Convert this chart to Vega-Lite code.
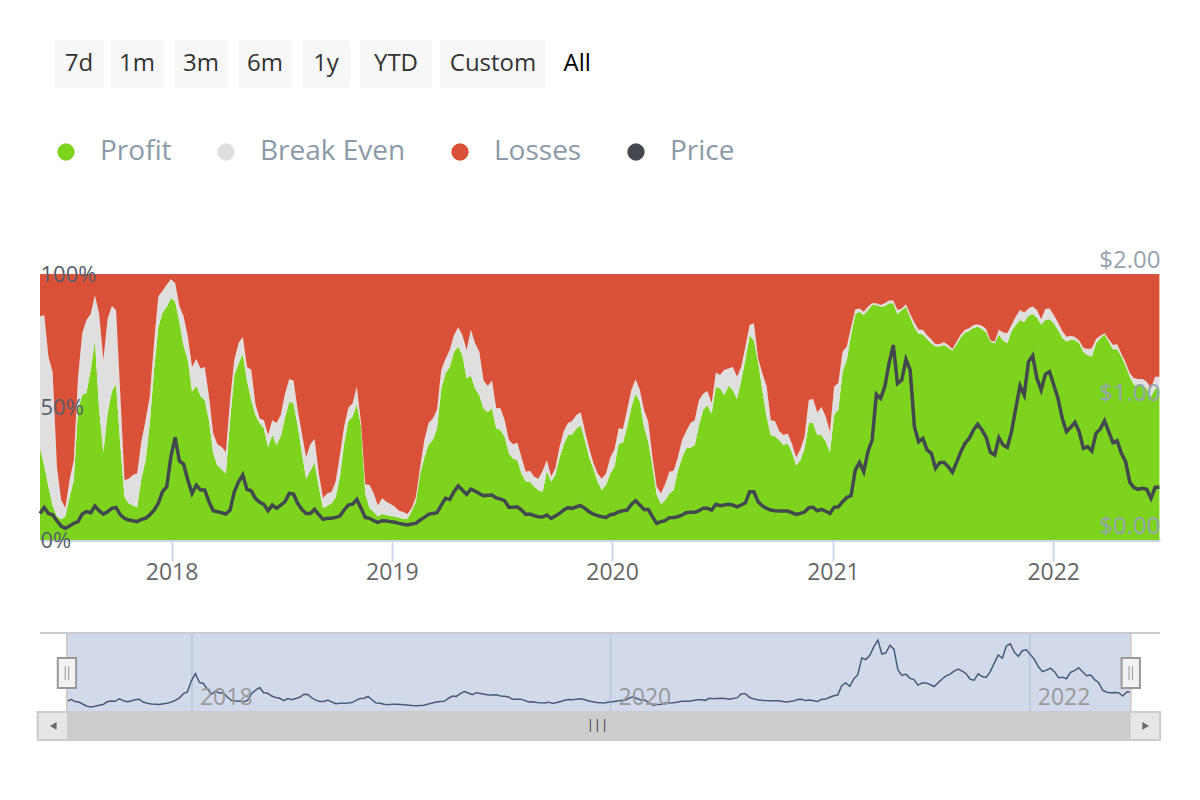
{"$schema":"https://vega.github.io/schema/vega-lite/v6.json","background":"white","padding":{"left":33,"top":40,"right":40,"bottom":59},"autosize":{"type":"pad"},"bounds":"flush","spacing":93,
"datasets":{"weekly":[
{"d":"2017-05-28","Profit":34.5,"Break Even":49.5,"Losses":16,"Price":0.2},
{"d":"2017-06-04","Profit":28,"Break Even":56.6,"Losses":15.4,"Price":0.245},
{"d":"2017-06-11","Profit":20,"Break Even":49,"Losses":31,"Price":0.2},
{"d":"2017-06-18","Profit":13,"Break Even":50,"Losses":37,"Price":0.19},
{"d":"2017-06-25","Profit":8.8,"Break Even":18.7,"Losses":72.5,"Price":0.145},
{"d":"2017-07-02","Profit":7.8,"Break Even":7.2,"Losses":85,"Price":0.105},
{"d":"2017-07-09","Profit":8.8,"Break Even":3.2,"Losses":88,"Price":0.088},
{"d":"2017-07-16","Profit":16.3,"Break Even":6.2,"Losses":77.5,"Price":0.105},
{"d":"2017-07-23","Profit":22.5,"Break Even":7.5,"Losses":70,"Price":0.125},
{"d":"2017-07-30","Profit":49,"Break Even":12,"Losses":39,"Price":0.138},
{"d":"2017-08-06","Profit":54.5,"Break Even":23.2,"Losses":22.3,"Price":0.195},
{"d":"2017-08-13","Profit":55.4,"Break Even":27.3,"Losses":17.3,"Price":0.213},
{"d":"2017-08-20","Profit":64,"Break Even":21,"Losses":15,"Price":0.205},
{"d":"2017-08-27","Profit":75,"Break Even":17,"Losses":8,"Price":0.255},
{"d":"2017-09-03","Profit":49,"Break Even":36,"Losses":15,"Price":0.22},
{"d":"2017-09-10","Profit":33,"Break Even":34.7,"Losses":32.3,"Price":0.195},
{"d":"2017-09-17","Profit":47.6,"Break Even":35.4,"Losses":17,"Price":0.213},
{"d":"2017-09-24","Profit":55.8,"Break Even":32.2,"Losses":12,"Price":0.238},
{"d":"2017-10-01","Profit":58.6,"Break Even":27.9,"Losses":13.5,"Price":0.245},
{"d":"2017-10-08","Profit":36,"Break Even":19,"Losses":45,"Price":0.19},
{"d":"2017-10-15","Profit":16.3,"Break Even":6.2,"Losses":77.5,"Price":0.163},
{"d":"2017-10-22","Profit":13.8,"Break Even":9.2,"Losses":77,"Price":0.15},
{"d":"2017-10-29","Profit":13,"Break Even":11.4,"Losses":75.6,"Price":0.145},
{"d":"2017-11-05","Profit":12.3,"Break Even":12.7,"Losses":75,"Price":0.138},
{"d":"2017-11-12","Profit":23,"Break Even":14,"Losses":63,"Price":0.155},
{"d":"2017-11-19","Profit":30,"Break Even":15,"Losses":55,"Price":0.163},
{"d":"2017-11-26","Profit":44,"Break Even":10,"Losses":46,"Price":0.19},
{"d":"2017-12-03","Profit":64,"Break Even":10,"Losses":26,"Price":0.225},
{"d":"2017-12-10","Profit":80,"Break Even":11.5,"Losses":8.5,"Price":0.275},
{"d":"2017-12-17","Profit":85.5,"Break Even":8.2,"Losses":6.3,"Price":0.363},
{"d":"2017-12-24","Profit":87.7,"Break Even":8.3,"Losses":4,"Price":0.4},
{"d":"2017-12-31","Profit":91,"Break Even":7,"Losses":2,"Price":0.627},
{"d":"2018-01-07","Profit":89.6,"Break Even":6.9,"Losses":3.5,"Price":0.772},
{"d":"2018-01-14","Profit":82,"Break Even":6,"Losses":12,"Price":0.594},
{"d":"2018-01-21","Profit":73,"Break Even":11,"Losses":16,"Price":0.571},
{"d":"2018-01-28","Profit":67.7,"Break Even":8.7,"Losses":23.6,"Price":0.45},
{"d":"2018-02-04","Profit":55.8,"Break Even":9.2,"Losses":35,"Price":0.35},
{"d":"2018-02-11","Profit":58,"Break Even":10,"Losses":32,"Price":0.413},
{"d":"2018-02-18","Profit":54,"Break Even":10.5,"Losses":35.5,"Price":0.376},
{"d":"2018-02-25","Profit":52.6,"Break Even":12.4,"Losses":35,"Price":0.376},
{"d":"2018-03-04","Profit":45,"Break Even":9,"Losses":46,"Price":0.288},
{"d":"2018-03-11","Profit":32.6,"Break Even":7.4,"Losses":60,"Price":0.22},
{"d":"2018-03-18","Profit":28,"Break Even":8,"Losses":64,"Price":0.213},
{"d":"2018-03-25","Profit":26.6,"Break Even":8.4,"Losses":65,"Price":0.205},
{"d":"2018-04-01","Profit":25,"Break Even":8,"Losses":67,"Price":0.195},
{"d":"2018-04-08","Profit":45,"Break Even":7.6,"Losses":47.4,"Price":0.225},
{"d":"2018-04-15","Profit":62,"Break Even":5.7,"Losses":32.3,"Price":0.363},
{"d":"2018-04-22","Profit":66.4,"Break Even":7.6,"Losses":26,"Price":0.438},
{"d":"2018-04-29","Profit":70,"Break Even":6.4,"Losses":23.6,"Price":0.489},
{"d":"2018-05-06","Profit":60,"Break Even":5,"Losses":35,"Price":0.38},
{"d":"2018-05-13","Profit":52.6,"Break Even":11.4,"Losses":36,"Price":0.37},
{"d":"2018-05-20","Profit":47,"Break Even":4,"Losses":49,"Price":0.313},
{"d":"2018-05-27","Profit":44,"Break Even":1.7,"Losses":54.3,"Price":0.283},
{"d":"2018-06-03","Profit":42,"Break Even":3,"Losses":55,"Price":0.268},
{"d":"2018-06-10","Profit":35,"Break Even":4.5,"Losses":60.5,"Price":0.22},
{"d":"2018-06-17","Profit":39.5,"Break Even":5.5,"Losses":55,"Price":0.263},
{"d":"2018-06-24","Profit":35.7,"Break Even":8.3,"Losses":56,"Price":0.238},
{"d":"2018-07-01","Profit":39,"Break Even":8,"Losses":53,"Price":0.263},
{"d":"2018-07-08","Profit":46,"Break Even":9,"Losses":45,"Price":0.288},
{"d":"2018-07-15","Profit":52,"Break Even":8.4,"Losses":39.6,"Price":0.35},
{"d":"2018-07-22","Profit":51.4,"Break Even":8.6,"Losses":40,"Price":0.346},
{"d":"2018-07-29","Profit":43,"Break Even":6,"Losses":51,"Price":0.276},
{"d":"2018-08-05","Profit":32.6,"Break Even":7.4,"Losses":60,"Price":0.23},
{"d":"2018-08-12","Profit":23,"Break Even":8,"Losses":69,"Price":0.2},
{"d":"2018-08-19","Profit":26,"Break Even":10,"Losses":64,"Price":0.2},
{"d":"2018-08-26","Profit":29,"Break Even":9,"Losses":62,"Price":0.23},
{"d":"2018-09-02","Profit":20,"Break Even":5,"Losses":75,"Price":0.19},
{"d":"2018-09-09","Profit":12,"Break Even":3.7,"Losses":84.3,"Price":0.155},
{"d":"2018-09-16","Profit":12.8,"Break Even":4.7,"Losses":82.5,"Price":0.163},
{"d":"2018-09-23","Profit":13.8,"Break Even":4.2,"Losses":82,"Price":0.163},
{"d":"2018-09-30","Profit":16,"Break Even":6,"Losses":78,"Price":0.17},
{"d":"2018-10-07","Profit":23.8,"Break Even":8.2,"Losses":68,"Price":0.18},
{"d":"2018-10-14","Profit":36.3,"Break Even":6.3,"Losses":57.4,"Price":0.225},
{"d":"2018-10-21","Profit":44.7,"Break Even":5,"Losses":50.3,"Price":0.263},
{"d":"2018-10-28","Profit":46.4,"Break Even":5,"Losses":48.6,"Price":0.27},
{"d":"2018-11-04","Profit":51,"Break Even":6.6,"Losses":42.4,"Price":0.305},
{"d":"2018-11-11","Profit":42.6,"Break Even":1.3,"Losses":56.1,"Price":0.238},
{"d":"2018-11-18","Profit":17.5,"Break Even":3.5,"Losses":79,"Price":0.17},
{"d":"2018-11-25","Profit":12,"Break Even":8.7,"Losses":79.3,"Price":0.163},
{"d":"2018-12-02","Profit":10.6,"Break Even":6.9,"Losses":82.5,"Price":0.145},
{"d":"2018-12-09","Profit":8.8,"Break Even":4.2,"Losses":87,"Price":0.133},
{"d":"2018-12-16","Profit":9.8,"Break Even":5.9,"Losses":84.3,"Price":0.145},
{"d":"2018-12-23","Profit":9.4,"Break Even":5,"Losses":85.6,"Price":0.143},
{"d":"2018-12-30","Profit":9,"Break Even":4.5,"Losses":86.5,"Price":0.138},
{"d":"2019-01-06","Profit":8.8,"Break Even":3.7,"Losses":87.5,"Price":0.133},
{"d":"2019-01-13","Profit":8.4,"Break Even":2.6,"Losses":89,"Price":0.125},
{"d":"2019-01-20","Profit":8,"Break Even":2.5,"Losses":89.5,"Price":0.118},
{"d":"2019-01-27","Profit":8,"Break Even":1.8,"Losses":90.2,"Price":0.113},
{"d":"2019-02-03","Profit":11,"Break Even":1,"Losses":88,"Price":0.12},
{"d":"2019-02-10","Profit":14.4,"Break Even":1.9,"Losses":83.7,"Price":0.125},
{"d":"2019-02-17","Profit":25,"Break Even":2.5,"Losses":72.5,"Price":0.15},
{"d":"2019-02-24","Profit":31,"Break Even":6.6,"Losses":62.4,"Price":0.17},
{"d":"2019-03-03","Profit":36,"Break Even":8,"Losses":56,"Price":0.193},
{"d":"2019-03-10","Profit":37.6,"Break Even":8.1,"Losses":54.3,"Price":0.2},
{"d":"2019-03-17","Profit":42,"Break Even":7,"Losses":51,"Price":0.205},
{"d":"2019-03-24","Profit":57,"Break Even":7,"Losses":36,"Price":0.263},
{"d":"2019-03-31","Profit":62.7,"Break Even":5.3,"Losses":32,"Price":0.313},
{"d":"2019-04-07","Profit":65,"Break Even":6.4,"Losses":28.6,"Price":0.305},
{"d":"2019-04-14","Profit":70.8,"Break Even":6.2,"Losses":23,"Price":0.363},
{"d":"2019-04-21","Profit":72.7,"Break Even":7.3,"Losses":20,"Price":0.406},
{"d":"2019-04-28","Profit":69.5,"Break Even":7.5,"Losses":23,"Price":0.376},
{"d":"2019-05-05","Profit":60.8,"Break Even":10.6,"Losses":28.6,"Price":0.343},
{"d":"2019-05-12","Profit":61.8,"Break Even":17.2,"Losses":21,"Price":0.383},
{"d":"2019-05-19","Profit":57,"Break Even":17,"Losses":26,"Price":0.368},
{"d":"2019-05-26","Profit":54.5,"Break Even":16.3,"Losses":29.2,"Price":0.35},
{"d":"2019-06-02","Profit":49.5,"Break Even":10.5,"Losses":40,"Price":0.333},
{"d":"2019-06-09","Profit":48,"Break Even":9.9,"Losses":42.1,"Price":0.336},
{"d":"2019-06-16","Profit":49.5,"Break Even":10.5,"Losses":40,"Price":0.338},
{"d":"2019-06-23","Profit":42,"Break Even":7.5,"Losses":50.5,"Price":0.316},
{"d":"2019-06-30","Profit":41.4,"Break Even":8.1,"Losses":50.5,"Price":0.308},
{"d":"2019-07-07","Profit":38.8,"Break Even":6.2,"Losses":55,"Price":0.296},
{"d":"2019-07-14","Profit":32.6,"Break Even":5,"Losses":62.4,"Price":0.246},
{"d":"2019-07-21","Profit":30.5,"Break Even":5.5,"Losses":64,"Price":0.246},
{"d":"2019-07-28","Profit":30,"Break Even":6.6,"Losses":63.4,"Price":0.25},
{"d":"2019-08-04","Profit":25,"Break Even":6,"Losses":69,"Price":0.225},
{"d":"2019-08-11","Profit":22,"Break Even":3.7,"Losses":74.3,"Price":0.193},
{"d":"2019-08-18","Profit":22,"Break Even":4,"Losses":74,"Price":0.195},
{"d":"2019-08-25","Profit":20,"Break Even":3.8,"Losses":76.2,"Price":0.183},
{"d":"2019-09-01","Profit":18.8,"Break Even":4.2,"Losses":77,"Price":0.175},
{"d":"2019-09-08","Profit":18,"Break Even":8,"Losses":74,"Price":0.173},
{"d":"2019-09-15","Profit":26,"Break Even":4,"Losses":70,"Price":0.188},
{"d":"2019-09-22","Profit":22,"Break Even":1.8,"Losses":76.2,"Price":0.163},
{"d":"2019-09-29","Profit":24.4,"Break Even":2.6,"Losses":73,"Price":0.18},
{"d":"2019-10-06","Profit":31,"Break Even":4,"Losses":65,"Price":0.2},
{"d":"2019-10-13","Profit":36,"Break Even":5,"Losses":59,"Price":0.225},
{"d":"2019-10-20","Profit":39.5,"Break Even":4.5,"Losses":56,"Price":0.243},
{"d":"2019-10-27","Profit":39.8,"Break Even":4.9,"Losses":55.3,"Price":0.238},
{"d":"2019-11-03","Profit":42,"Break Even":5,"Losses":53,"Price":0.25},
{"d":"2019-11-10","Profit":43,"Break Even":5,"Losses":52,"Price":0.258},
{"d":"2019-11-17","Profit":37.6,"Break Even":3.4,"Losses":59,"Price":0.238},
{"d":"2019-11-24","Profit":31,"Break Even":3.5,"Losses":65.5,"Price":0.213},
{"d":"2019-12-01","Profit":27,"Break Even":2,"Losses":71,"Price":0.195},
{"d":"2019-12-08","Profit":22,"Break Even":3,"Losses":75,"Price":0.183},
{"d":"2019-12-15","Profit":18.8,"Break Even":4.2,"Losses":77,"Price":0.175},
{"d":"2019-12-22","Profit":20.7,"Break Even":4.3,"Losses":75,"Price":0.17},
{"d":"2019-12-29","Profit":25,"Break Even":6,"Losses":69,"Price":0.19},
{"d":"2020-01-05","Profit":27.5,"Break Even":6.5,"Losses":66,"Price":0.195},
{"d":"2020-01-12","Profit":36.3,"Break Even":5.7,"Losses":58,"Price":0.213},
{"d":"2020-01-19","Profit":36.6,"Break Even":5.1,"Losses":58.3,"Price":0.22},
{"d":"2020-01-26","Profit":42.6,"Break Even":6.3,"Losses":51.1,"Price":0.225},
{"d":"2020-02-02","Profit":50,"Break Even":6.4,"Losses":43.6,"Price":0.268},
{"d":"2020-02-09","Profit":55,"Break Even":5.4,"Losses":39.6,"Price":0.296},
{"d":"2020-02-16","Profit":52,"Break Even":4.4,"Losses":43.6,"Price":0.263},
{"d":"2020-02-23","Profit":42.6,"Break Even":6.3,"Losses":51.1,"Price":0.23},
{"d":"2020-03-01","Profit":37,"Break Even":7.5,"Losses":55.5,"Price":0.23},
{"d":"2020-03-08","Profit":27.5,"Break Even":3.5,"Losses":69,"Price":0.175},
{"d":"2020-03-15","Profit":17,"Break Even":3,"Losses":80,"Price":0.125},
{"d":"2020-03-22","Profit":13.5,"Break Even":4,"Losses":82.5,"Price":0.138},
{"d":"2020-03-29","Profit":15,"Break Even":6,"Losses":79,"Price":0.145},
{"d":"2020-04-05","Profit":17.5,"Break Even":8.2,"Losses":74.3,"Price":0.168},
{"d":"2020-04-12","Profit":18.8,"Break Even":7.2,"Losses":74,"Price":0.17},
{"d":"2020-04-19","Profit":26,"Break Even":5,"Losses":69,"Price":0.175},
{"d":"2020-04-26","Profit":31,"Break Even":6.6,"Losses":62.4,"Price":0.188},
{"d":"2020-05-03","Profit":34.5,"Break Even":6.5,"Losses":59,"Price":0.205},
{"d":"2020-05-10","Profit":34.8,"Break Even":9.2,"Losses":56,"Price":0.208},
{"d":"2020-05-17","Profit":35.7,"Break Even":9.3,"Losses":55,"Price":0.208},
{"d":"2020-05-24","Profit":43,"Break Even":9.6,"Losses":47.4,"Price":0.22},
{"d":"2020-05-31","Profit":49,"Break Even":6,"Losses":45,"Price":0.238},
{"d":"2020-06-07","Profit":50.7,"Break Even":5.3,"Losses":44,"Price":0.238},
{"d":"2020-06-14","Profit":47.6,"Break Even":3.8,"Losses":48.6,"Price":0.225},
{"d":"2020-06-21","Profit":57.6,"Break Even":5.4,"Losses":37,"Price":0.268},
{"d":"2020-06-28","Profit":57,"Break Even":5,"Losses":38,"Price":0.258},
{"d":"2020-07-05","Profit":54.5,"Break Even":9.5,"Losses":36,"Price":0.263},
{"d":"2020-07-12","Profit":58,"Break Even":6.5,"Losses":35.5,"Price":0.268},
{"d":"2020-07-19","Profit":56.4,"Break Even":8.6,"Losses":35,"Price":0.263},
{"d":"2020-07-26","Profit":53,"Break Even":8.4,"Losses":38.6,"Price":0.25},
{"d":"2020-08-02","Profit":60,"Break Even":5,"Losses":35,"Price":0.263},
{"d":"2020-08-09","Profit":68,"Break Even":4.7,"Losses":27.3,"Price":0.28},
{"d":"2020-08-16","Profit":77,"Break Even":3.8,"Losses":19.2,"Price":0.363},
{"d":"2020-08-23","Profit":75,"Break Even":6.5,"Losses":18.5,"Price":0.363},
{"d":"2020-08-30","Profit":67,"Break Even":1.3,"Losses":31.7,"Price":0.288},
{"d":"2020-09-06","Profit":56.4,"Break Even":6.3,"Losses":37.3,"Price":0.256},
{"d":"2020-09-13","Profit":46.4,"Break Even":11.6,"Losses":42,"Price":0.238},
{"d":"2020-09-20","Profit":39.5,"Break Even":5.5,"Losses":55,"Price":0.225},
{"d":"2020-09-27","Profit":39,"Break Even":5.7,"Losses":55.3,"Price":0.22},
{"d":"2020-10-04","Profit":37.6,"Break Even":3.4,"Losses":59,"Price":0.218},
{"d":"2020-10-11","Profit":35.7,"Break Even":3.8,"Losses":60.5,"Price":0.218},
{"d":"2020-10-18","Profit":36.3,"Break Even":3.7,"Losses":60,"Price":0.218},
{"d":"2020-10-25","Profit":33,"Break Even":3.3,"Losses":63.7,"Price":0.205},
{"d":"2020-11-01","Profit":28,"Break Even":3,"Losses":69,"Price":0.193},
{"d":"2020-11-08","Profit":30,"Break Even":4,"Losses":66,"Price":0.2},
{"d":"2020-11-15","Profit":34.5,"Break Even":4.3,"Losses":61.2,"Price":0.21},
{"d":"2020-11-22","Profit":44,"Break Even":8.6,"Losses":47.4,"Price":0.243},
{"d":"2020-11-29","Profit":44,"Break Even":9,"Losses":47,"Price":0.246},
{"d":"2020-12-06","Profit":39.5,"Break Even":8.5,"Losses":52,"Price":0.22},
{"d":"2020-12-13","Profit":39.5,"Break Even":10.5,"Losses":50,"Price":0.23},
{"d":"2020-12-20","Profit":37,"Break Even":9.4,"Losses":53.6,"Price":0.216},
{"d":"2020-12-27","Profit":33,"Break Even":7.7,"Losses":59.3,"Price":0.2},
{"d":"2021-01-03","Profit":47,"Break Even":10.6,"Losses":42.4,"Price":0.246},
{"d":"2021-01-10","Profit":49,"Break Even":10,"Losses":41,"Price":0.25},
{"d":"2021-01-17","Profit":63.3,"Break Even":7.5,"Losses":29.2,"Price":0.288},
{"d":"2021-01-24","Profit":67.7,"Break Even":5,"Losses":27.3,"Price":0.32},
{"d":"2021-01-31","Profit":77,"Break Even":3,"Losses":20,"Price":0.333},
{"d":"2021-02-07","Profit":85,"Break Even":1.7,"Losses":13.3,"Price":0.526},
{"d":"2021-02-14","Profit":85.8,"Break Even":1.2,"Losses":13,"Price":0.584},
{"d":"2021-02-21","Profit":84.6,"Break Even":1.2,"Losses":14.2,"Price":0.514},
{"d":"2021-02-28","Profit":86.5,"Break Even":1.2,"Losses":12.3,"Price":0.664},
{"d":"2021-03-07","Profit":88.3,"Break Even":0.7,"Losses":11,"Price":0.752},
{"d":"2021-03-14","Profit":88.3,"Break Even":0.7,"Losses":11,"Price":1.095},
{"d":"2021-03-21","Profit":87.7,"Break Even":0.6,"Losses":11.7,"Price":1.065},
{"d":"2021-03-28","Profit":88,"Break Even":1,"Losses":11,"Price":1.153},
{"d":"2021-04-04","Profit":89,"Break Even":1,"Losses":10,"Price":1.328},
{"d":"2021-04-11","Profit":89,"Break Even":1,"Losses":10,"Price":1.466},
{"d":"2021-04-18","Profit":85,"Break Even":1.5,"Losses":13.5,"Price":1.178},
{"d":"2021-04-25","Profit":86.5,"Break Even":0.5,"Losses":13,"Price":1.203},
{"d":"2021-05-02","Profit":87.7,"Break Even":0.9,"Losses":11.4,"Price":1.358},
{"d":"2021-05-09","Profit":83.6,"Break Even":1.4,"Losses":15,"Price":1.278},
{"d":"2021-05-16","Profit":80,"Break Even":1.8,"Losses":18.2,"Price":0.852},
{"d":"2021-05-23","Profit":77.5,"Break Even":1.5,"Losses":21,"Price":0.739},
{"d":"2021-05-30","Profit":77.3,"Break Even":1.7,"Losses":21,"Price":0.764},
{"d":"2021-06-06","Profit":75.6,"Break Even":1.4,"Losses":23,"Price":0.677},
{"d":"2021-06-13","Profit":74,"Break Even":1.4,"Losses":24.6,"Price":0.652},
{"d":"2021-06-20","Profit":72.7,"Break Even":0.9,"Losses":26.4,"Price":0.539},
{"d":"2021-06-27","Profit":72.8,"Break Even":0.9,"Losses":26.3,"Price":0.581},
{"d":"2021-07-04","Profit":73.3,"Break Even":1,"Losses":25.7,"Price":0.584},
{"d":"2021-07-11","Profit":72.3,"Break Even":1,"Losses":26.7,"Price":0.551},
{"d":"2021-07-18","Profit":71.2,"Break Even":0.6,"Losses":28.2,"Price":0.509},
{"d":"2021-07-25","Profit":73.6,"Break Even":1,"Losses":25.4,"Price":0.584},
{"d":"2021-08-01","Profit":76.2,"Break Even":1.1,"Losses":22.7,"Price":0.664},
{"d":"2021-08-08","Profit":78,"Break Even":1,"Losses":21,"Price":0.727},
{"d":"2021-08-15","Profit":78.7,"Break Even":0.9,"Losses":20.4,"Price":0.764},
{"d":"2021-08-22","Profit":79.8,"Break Even":1,"Losses":19.2,"Price":0.827},
{"d":"2021-08-29","Profit":80.2,"Break Even":0.8,"Losses":19,"Price":0.87},
{"d":"2021-09-05","Profit":79.3,"Break Even":1.2,"Losses":19.5,"Price":0.827},
{"d":"2021-09-12","Profit":78,"Break Even":1.3,"Losses":20.7,"Price":0.772},
{"d":"2021-09-19","Profit":74.6,"Break Even":0.4,"Losses":25,"Price":0.659},
{"d":"2021-09-26","Profit":74,"Break Even":0.6,"Losses":25.4,"Price":0.639},
{"d":"2021-10-03","Profit":77.3,"Break Even":1.7,"Losses":21,"Price":0.769},
{"d":"2021-10-10","Profit":75,"Break Even":3,"Losses":22,"Price":0.714},
{"d":"2021-10-17","Profit":74,"Break Even":3.7,"Losses":22.3,"Price":0.697},
{"d":"2021-10-24","Profit":78.6,"Break Even":2.2,"Losses":19.2,"Price":0.815},
{"d":"2021-10-31","Profit":80.8,"Break Even":3.2,"Losses":16,"Price":0.99},
{"d":"2021-11-07","Profit":82.7,"Break Even":3.8,"Losses":13.5,"Price":1.16},
{"d":"2021-11-14","Profit":82,"Break Even":3.5,"Losses":14.5,"Price":1.09},
{"d":"2021-11-21","Profit":84.3,"Break Even":2.7,"Losses":13,"Price":1.34},
{"d":"2021-11-28","Profit":85,"Break Even":2.8,"Losses":12.2,"Price":1.386},
{"d":"2021-12-05","Profit":83.6,"Break Even":2.9,"Losses":13.5,"Price":1.216},
{"d":"2021-12-12","Profit":81,"Break Even":2,"Losses":17,"Price":1.128},
{"d":"2021-12-19","Profit":82.7,"Break Even":4.1,"Losses":13.2,"Price":1.246},
{"d":"2021-12-26","Profit":83,"Break Even":4,"Losses":13,"Price":1.266},
{"d":"2022-01-02","Profit":81.5,"Break Even":3.1,"Losses":15.4,"Price":1.165},
{"d":"2022-01-09","Profit":79,"Break Even":2.8,"Losses":18.2,"Price":1.065},
{"d":"2022-01-16","Profit":76,"Break Even":2.6,"Losses":21.4,"Price":0.915},
{"d":"2022-01-23","Profit":74.6,"Break Even":1.8,"Losses":23.6,"Price":0.815},
{"d":"2022-01-30","Profit":75.3,"Break Even":1.5,"Losses":23.2,"Price":0.847},
{"d":"2022-02-06","Profit":75.2,"Break Even":1.1,"Losses":23.7,"Price":0.885},
{"d":"2022-02-13","Profit":74,"Break Even":1,"Losses":25,"Price":0.815},
{"d":"2022-02-20","Profit":70.8,"Break Even":1.5,"Losses":27.7,"Price":0.689},
{"d":"2022-02-27","Profit":69.5,"Break Even":2.3,"Losses":28.2,"Price":0.702},
{"d":"2022-03-06","Profit":69,"Break Even":3,"Losses":28,"Price":0.669},
{"d":"2022-03-13","Profit":74,"Break Even":1.6,"Losses":24.4,"Price":0.802},
{"d":"2022-03-20","Profit":75.8,"Break Even":1,"Losses":23.2,"Price":0.835},
{"d":"2022-03-27","Profit":77.3,"Break Even":0.4,"Losses":22.3,"Price":0.897},
{"d":"2022-04-03","Profit":74.6,"Break Even":1,"Losses":24.4,"Price":0.815},
{"d":"2022-04-10","Profit":71.7,"Break Even":1.6,"Losses":26.7,"Price":0.732},
{"d":"2022-04-17","Profit":71.7,"Break Even":1.9,"Losses":26.4,"Price":0.747},
{"d":"2022-04-24","Profit":69,"Break Even":1,"Losses":30,"Price":0.652},
{"d":"2022-05-01","Profit":65.5,"Break Even":1.3,"Losses":33.2,"Price":0.589},
{"d":"2022-05-08","Profit":61.4,"Break Even":1.3,"Losses":37.3,"Price":0.434},
{"d":"2022-05-15","Profit":58.3,"Break Even":2.5,"Losses":39.2,"Price":0.393},
{"d":"2022-05-22","Profit":58,"Break Even":2.5,"Losses":39.5,"Price":0.381},
{"d":"2022-05-29","Profit":58,"Break Even":2.5,"Losses":39.5,"Price":0.388},
{"d":"2022-06-05","Profit":57,"Break Even":2.5,"Losses":40.5,"Price":0.381},
{"d":"2022-06-12","Profit":53.9,"Break Even":3.1,"Losses":43,"Price":0.313},
{"d":"2022-06-19","Profit":57,"Break Even":4.4,"Losses":38.6,"Price":0.396},
{"d":"2022-06-26","Profit":57,"Break Even":4.4,"Losses":38.6,"Price":0.396}
]},
"vconcat":[
{"width":1120,"height":141,
"data":{"values":[{"label":"7d","i":1},{"label":"1m","i":2},{"label":"3m","i":3},{"label":"6m","i":4},{"label":"1y","i":5},{"label":"YTD","i":6},{"label":"Custom","i":7},{"label":"All","i":8}]},
"layer":[
{"transform":[{"filter":"datum.i < 8"}],
"mark":{"type":"bar","color":"#f7f7f7","cornerRadius":2,"orient":"vertical"},
"encoding":{
"x":{"field":"i","type":"quantitative","axis":null,"scale":{"domain":[1,2,3,4,5,6,7,8],"range":[35,97,161,225,286,356,453,543],"zero":false,"nice":false}},
"y":{"datum":1,"type":"quantitative","axis":null,"scale":{"domain":[-1.9375,1],"nice":false,"zero":false}},
"y2":{"datum":0},
"size":{"field":"i","type":"quantitative","legend":null,"scale":{"domain":[1,2,3,4,5,6,7],"range":[50,54,54,54,48,72,106],"zero":false,"nice":false}}}},
{"mark":{"type":"text","font":"Open Sans","fontSize":24,"baseline":"middle"},
"encoding":{
"x":{"field":"i","type":"quantitative","axis":null,"scale":{"domain":[1,2,3,4,5,6,7,8],"range":[35,97,161,225,286,356,453,543],"zero":false,"nice":false}},
"y":{"datum":0.5,"type":"quantitative","axis":null,"scale":{"domain":[-1.9375,1],"nice":false,"zero":false}},
"text":{"field":"label"},
"color":{"condition":{"test":"datum.i == 8","value":"#000000"},"value":"#333333"},
"fontWeight":{"condition":{"test":"datum.i == 8","value":"bold"},"value":"normal"}}}
]},
{"width":1120,"height":266,
"data":{"name":"weekly"},
"layer":[
{"transform":[{"fold":["Profit","Break Even","Losses"],"as":["series","share"]},{"calculate":"indexof(['Profit','Break Even','Losses'],datum.series)","as":"rank"}],
"mark":{"type":"area","interpolate":"linear"},
"encoding":{
"x":{"field":"d","type":"temporal","scale":{"type":"utc","domain":["2017-05-28","2022-06-27"]},"axis":{"title":null,"format":"%Y","formatType":"utc","tickCount":{"interval":"year","step":1},"grid":false,"domainColor":"#ccd6eb","domainWidth":3,"tickColor":"#ccd6eb","tickWidth":2,"tickSize":21,"labelPadding":0,"labelFont":"Open Sans","labelFontSize":23,"labelColor":"#666666","labelFlush":false,"labelBaseline":"top"}},
"y":{"field":"share","type":"quantitative","stack":"zero","scale":{"domain":[0,100],"nice":false},"axis":{"title":null,"values":[0,50,100],"format":".0f","labelExpr":"datum.label + '%'","grid":false,"domain":false,"ticks":false,"tickSize":0,"labelPadding":0,"labelAlign":"left","labelBaseline":"middle","labelFont":"Open Sans","labelFontSize":22,"labelColor":"#555e6c","labelFlush":false,"zindex":1}},
"color":{"field":"series","type":"nominal","scale":{"domain":["Profit","Break Even","Losses","Price"],"range":["#7dd31e","#dfdfdf","#d95138","#43484e"]},
"legend":{"orient":"none","legendX":12,"legendY":98,"direction":"horizontal","columns":4,"title":null,"padding":0,"symbolType":"circle","symbolSize":300,"symbolStrokeWidth":0,"labelFont":"Open Sans","labelFontSize":28,"labelColor":"#8b9aa8","labelOffset":20,"columnPadding":40}},
"order":{"field":"rank","type":"quantitative"}}},
{"mark":{"type":"line","strokeWidth":3.5,"interpolate":"linear"},
"encoding":{
"x":{"field":"d","type":"temporal","scale":{"type":"utc","domain":["2017-05-28","2022-06-27"]}},
"y":{"field":"Price","type":"quantitative","scale":{"domain":[0,2],"nice":false},"axis":{"orient":"right","title":null,"values":[0,1,2],"format":"$.2f","grid":false,"domain":false,"ticks":false,"tickSize":0,"labelPadding":0,"labelAlign":"right","labelBaseline":"middle","labelOffset":-14,"labelFont":"Open Sans","labelFontSize":24,"labelColor":"#97a3ae","labelFlush":false,"zindex":1}},
"color":{"datum":"Price"}}}
],
"resolve":{"scale":{"y":"independent"},"axis":{"y":"independent"}}},
{"width":1120,"height":108,
"layer":[
{"data":{"values":[{"start":"2017-05-28","end":"2022-06-26"}]},
"mark":{"type":"rect","color":"#d1d9eb"},
"encoding":{
"x":{"field":"start","type":"temporal","axis":null,"scale":{"type":"utc","domain":["2017-04-11","2022-08-16"]}},
"x2":{"field":"end"},
"y":{"datum":1.61,"type":"quantitative","axis":null,"scale":{"domain":[-0.611,1.61],"nice":false,"zero":false}},
"y2":{"datum":-0.014}}},
{"data":{"values":[{"d":"2018-01-01","label":"2018"},{"d":"2020-01-01","label":"2020"},{"d":"2022-01-01","label":"2022"}]},
"mark":{"type":"rule","color":"#bfc8dc","strokeWidth":2},
"encoding":{
"x":{"field":"d","type":"temporal","scale":{"type":"utc","domain":["2017-04-11","2022-08-16"]}},
"y":{"datum":1.61,"type":"quantitative"},
"y2":{"datum":-0.014}}},
{"data":{"name":"weekly"},
"mark":{"type":"line","color":"#4a5a78","strokeWidth":1.5},
"encoding":{
"x":{"field":"d","type":"temporal","scale":{"type":"utc","domain":["2017-04-11","2022-08-16"]}},
"y":{"field":"Price","type":"quantitative"}}},
{"data":{"values":[{"d":"2018-01-01","label":"2018"},{"d":"2020-01-01","label":"2020"},{"d":"2022-01-01","label":"2022"}]},
"mark":{"type":"text","align":"left","baseline":"alphabetic","dx":8,"font":"Open Sans","fontSize":23,"color":"#999999"},
"encoding":{
"x":{"field":"d","type":"temporal","scale":{"type":"utc","domain":["2017-04-11","2022-08-16"]}},
"y":{"datum":0.13,"type":"quantitative"},
"text":{"field":"label"}}},
{"data":{"values":[{"start":"2017-04-11","end":"2022-08-16"}]},
"mark":{"type":"rule","color":"#cccccc","strokeWidth":2},
"encoding":{
"x":{"field":"start","type":"temporal","scale":{"type":"utc","domain":["2017-04-11","2022-08-16"]}},
"x2":{"field":"end"},
"y":{"datum":1.61,"type":"quantitative"}}},
{"data":{"values":[{"d":"2017-05-28"},{"d":"2022-06-26"}]},
"mark":{"type":"rule","color":"#cccccc","strokeWidth":2},
"encoding":{
"x":{"field":"d","type":"temporal","scale":{"type":"utc","domain":["2017-04-11","2022-08-16"]}},
"y":{"datum":1.61,"type":"quantitative"},
"y2":{"datum":-0.014}}},
{"data":{"values":[{"start":"2017-04-07","end":"2022-08-16"}]},
"mark":{"type":"rect","color":"#e6e6e6","stroke":"#cccccc","strokeWidth":2},
"encoding":{
"x":{"field":"start","type":"temporal","scale":{"type":"utc","domain":["2017-04-11","2022-08-16"]}},
"x2":{"field":"end"},
"y":{"datum":-0.014,"type":"quantitative"},
"y2":{"datum":-0.59}}},
{"data":{"values":[{"start":"2017-05-28","end":"2022-06-26"}]},
"mark":{"type":"rect","color":"#cccccc"},
"encoding":{
"x":{"field":"start","type":"temporal","scale":{"type":"utc","domain":["2017-04-11","2022-08-16"]}},
"x2":{"field":"end"},
"y":{"datum":-0.014,"type":"quantitative"},
"y2":{"datum":-0.59}}},
{"data":{"values":[{"d":"2017-05-04","shape":"left"},{"d":"2022-07-22","shape":"right"}]},
"mark":{"type":"point","filled":true,"color":"#333333","size":60},
"encoding":{
"x":{"field":"d","type":"temporal","scale":{"type":"utc","domain":["2017-04-11","2022-08-16"]}},
"y":{"datum":-0.3,"type":"quantitative"},
"shape":{"field":"shape","type":"nominal","legend":null,"scale":{"domain":["left","right"],"range":["triangle-left","triangle-right"]}}}},
{"data":{"values":[{"d":"2019-12-09","label":"|||"}]},
"mark":{"type":"text","font":"Open Sans","fontSize":13,"color":"#333333","baseline":"middle"},
"encoding":{
"x":{"field":"d","type":"temporal","scale":{"type":"utc","domain":["2017-04-11","2022-08-16"]}},
"y":{"datum":-0.29,"type":"quantitative"},
"text":{"field":"label"}}},
{"data":{"values":[{"start":"2017-05-12","end":"2017-06-13"},{"start":"2022-06-10","end":"2022-07-12"}]},
"mark":{"type":"rect","color":"#f2f2f2","stroke":"#999999","strokeWidth":2},
"encoding":{
"x":{"field":"start","type":"temporal","scale":{"type":"utc","domain":["2017-04-11","2022-08-16"]}},
"x2":{"field":"end"},
"y":{"datum":1.097,"type":"quantitative"},
"y2":{"datum":0.48}}},
{"data":{"values":[{"d":"2017-05-25"},{"d":"2017-05-31"},{"d":"2022-06-23"},{"d":"2022-06-29"}]},
"mark":{"type":"rule","color":"#999999","strokeWidth":1},
"encoding":{
"x":{"field":"d","type":"temporal","scale":{"type":"utc","domain":["2017-04-11","2022-08-16"]}},
"y":{"datum":0.93,"type":"quantitative"},
"y2":{"datum":0.64}}}
]}
],
"config":{"view":{"stroke":null}}}
